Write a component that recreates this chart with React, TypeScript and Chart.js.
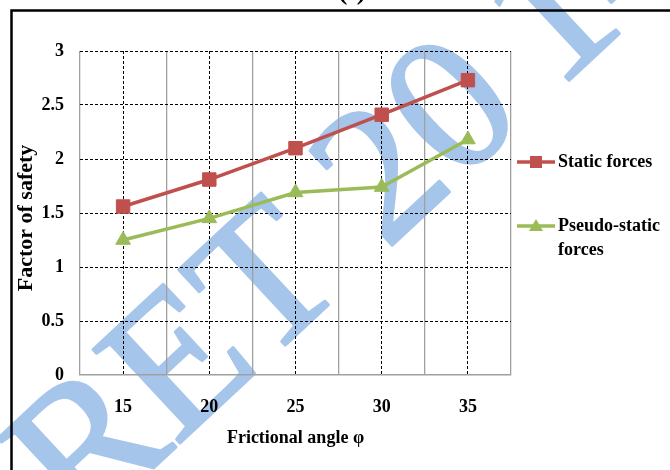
import React, { useEffect, useRef } from "react";
import { Chart, registerables } from "chart.js";

Chart.register(...registerables);

const categories = ["15", "20", "25", "30", "35"];
const staticForces = [1.56, 1.81, 2.1, 2.41, 2.73];
const pseudoStaticForces = [1.25, 1.45, 1.69, 1.74, 2.18];
const yMin = 0;
const yMax = 3;
const yStep = 0.5;
const seriesNames = ["Static forces", "Pseudo-static forces"];
const legendLines = [["Static forces"], ["Pseudo-static", "forces"]];
const xTitle = "Frictional angle φ";
const yTitle = "Factor of safety";
const panelLabel = "(f)";
const watermarkParts = ["IJRET ", "20", "14"];

const RED = "#c0504d";
const GREEN = "#9bbb59";
const GRAY = "#a0a0a0";
const SERIF = '"Liberation Serif", "Times New Roman", serif';

const decorPlugin = {
  id: "decor",
  beforeDraw(chart: any) {
    const ctx = chart.ctx;
    ctx.save();
    ctx.fillStyle = "rgb(166,197,234)";
    ctx.strokeStyle = "rgb(166,197,234)";
    ctx.lineWidth = 3;
    ctx.lineJoin = "round";
    ctx.font = `195px ${SERIF}`;
    const w = ctx.measureText(watermarkParts[0]).width;
    const w2 = ctx.measureText(watermarkParts[1]).width;
    ctx.translate(386, 251);
    ctx.rotate((-43 * Math.PI) / 180);
    ctx.textBaseline = "alphabetic";
    ctx.textAlign = "left";
    const head = watermarkParts[0] + watermarkParts[1];
    ctx.fillText(head, -w, 0);
    ctx.strokeText(head, -w, 0);
    ctx.fillText(watermarkParts[2], w2 + 38, 0);
    ctx.strokeText(watermarkParts[2], w2 + 38, 0);
    ctx.restore();
  },
  afterDraw(chart: any) {
    const ctx = chart.ctx;
    const area = chart.chartArea;
    ctx.save();
    // frame
    ctx.strokeStyle = "#000";
    ctx.lineWidth = 2.5;
    ctx.beginPath();
    ctx.moveTo(11.5, 480);
    ctx.lineTo(11.5, 10.5);
    ctx.lineTo(680, 10.5);
    ctx.stroke();
    // panel label
    ctx.fillStyle = "#000";
    ctx.font = `bold 28px ${SERIF}`;
    ctx.textAlign = "center";
    ctx.textBaseline = "alphabetic";
    ctx.fillText(panelLabel, 352, -1);

    // y title
    ctx.save();
    ctx.translate(26, (area.top + area.bottom) / 2 + 5);
    ctx.rotate(-Math.PI / 2);
    ctx.font = `bold 22px ${SERIF}`;
    ctx.textAlign = "center";
    ctx.textBaseline = "middle";
    ctx.fillText(yTitle, 0, 0);
    ctx.restore();

    // legend
    const colors = [RED, GREEN];
    const styles = ["rect", "triangle"];
    const rowsY = [area.top + 111, area.top + 175];
    const x0 = area.right + 6;
    const x1 = x0 + 38;
    const xm = (x0 + x1) / 2;
    ctx.font = `bold 18px ${SERIF}`;
    ctx.textAlign = "left";
    ctx.textBaseline = "middle";
    for (let i = 0; i < seriesNames.length; i++) {
      const y = rowsY[i];
      ctx.strokeStyle = colors[i];
      ctx.lineWidth = 3.5;
      ctx.beginPath();
      ctx.moveTo(x0, y);
      ctx.lineTo(x1, y);
      ctx.stroke();
      ctx.fillStyle = colors[i];
      if (styles[i] === "rect") {
        ctx.fillRect(xm - 6, y - 6, 12, 12);
      } else {
        ctx.beginPath();
        ctx.moveTo(xm, y - 7);
        ctx.lineTo(xm + 7, y + 5);
        ctx.lineTo(xm - 7, y + 5);
        ctx.closePath();
        ctx.fill();
      }
      ctx.fillStyle = "#000";
      legendLines[i].forEach((t, j) => {
        ctx.fillText(t, x1 + 3, y + j * 24);
      });
    }
    ctx.restore();
  },
};

export default function App() {
  const ref = useRef<HTMLCanvasElement | null>(null);
  useEffect(() => {
    if (!ref.current) return;
    const chart = new Chart(ref.current, {
      type: "line",
      data: {
        labels: categories,
        datasets: [
          {
            label: seriesNames[0],
            data: staticForces,
            borderColor: RED,
            backgroundColor: RED,
            borderWidth: 3.5,
            pointStyle: "rect",
            pointRadius: 9.5,
            pointBackgroundColor: RED,
            pointBorderColor: RED,
            pointBorderWidth: 1,
            tension: 0,
            xAxisID: "x",
          },
          {
            label: seriesNames[1],
            data: pseudoStaticForces,
            borderColor: GREEN,
            backgroundColor: GREEN,
            borderWidth: 3.5,
            pointStyle: "triangle",
            pointRadius: 8.5,
            pointBackgroundColor: GREEN,
            pointBorderColor: GREEN,
            pointBorderWidth: 1,
            tension: 0,
            xAxisID: "x",
          },
        ],
      },
      options: {
        animation: false,
        responsive: false,
        layout: { padding: { top: 51, right: 159, left: 0, bottom: 0 } },
        plugins: { legend: { display: false }, tooltip: { enabled: false } },
        scales: {
          x: {
            type: "category",
            offset: true,
            position: "bottom",
            grid: { offset: true, color: GRAY, lineWidth: 1.3, drawTicks: false },
            border: { display: true, color: GRAY, width: 1.5 },
            ticks: { color: "#000", font: { family: SERIF, size: 18, weight: "bold" }, padding: 22, maxRotation: 0 },
            title: {
              display: true,
              text: xTitle,
              color: "#000",
              font: { family: SERIF, size: 18, weight: "bold" },
              padding: { top: 0, bottom: 21 },
            },
            afterFit: (s: any) => {
              s.height = 95;
            },
          },
          x2: {
            type: "category",
            offset: true,
            position: "top",
            grid: { offset: false, color: "#000", lineWidth: 1, drawTicks: false },
            border: { display: false, dash: [3, 2] },
            ticks: { display: false },
            afterFit: (s: any) => {
              s.height = 0;
            },
          },
          y: {
            min: yMin,
            max: yMax,
            ticks: {
              stepSize: yStep,
              color: "#000",
              font: { family: SERIF, size: 18, weight: "bold" },
              padding: 16,
              callback: (v: any) => String(Number(v)),
            },
            grid: {
              drawTicks: false,
              lineWidth: 1,
              color: (c: any) => (c.tick && c.tick.value === 0 ? "rgba(0,0,0,0)" : "#000"),
            },
            border: { display: false, dash: [3, 2] },
            title: { display: false, text: yTitle },
            afterFit: (s: any) => {
              s.width = 80;
            },
          },
        },
      },
      plugins: [decorPlugin],
    });
    return () => chart.destroy();
  }, []);
  return (
    <div style={{ position: "absolute", left: 0, top: 0, width: 670, height: 470, background: "#fff" }}>
      <canvas ref={ref} width={670} height={470} style={{ display: "block", width: 670, height: 470 }} />
    </div>
  );
}
